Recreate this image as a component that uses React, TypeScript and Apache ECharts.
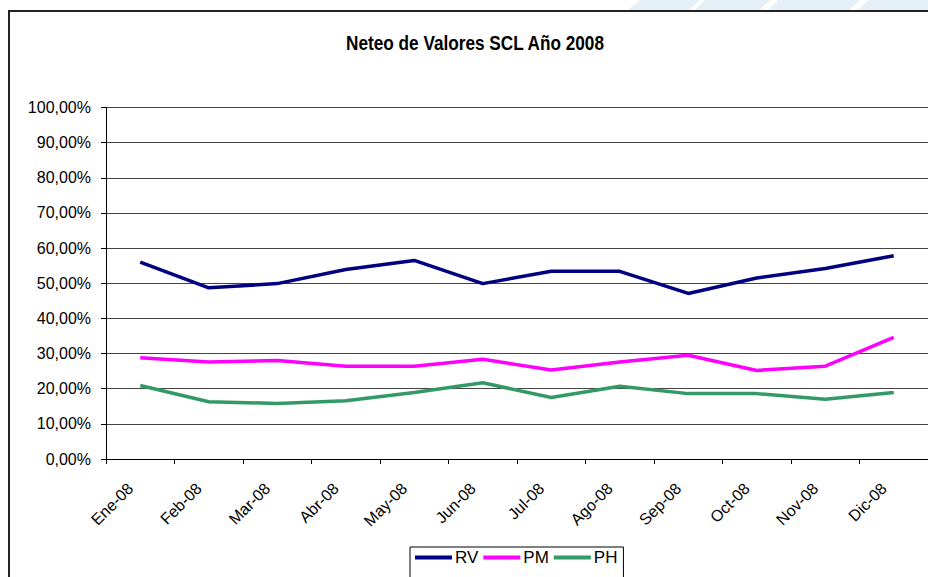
import React, { useEffect, useRef } from "react";
import * as echarts from "echarts";

const categories = ["Ene-08", "Feb-08", "Mar-08", "Abr-08", "May-08", "Jun-08", "Jul-08", "Ago-08", "Sep-08", "Oct-08", "Nov-08", "Dic-08"];
const rv = [56.0, 48.7, 49.9, 53.9, 56.5, 49.9, 53.4, 53.4, 47.1, 51.5, 54.2, 57.8];
const pm = [28.8, 27.6, 28.0, 26.4, 26.4, 28.4, 25.3, 27.6, 29.5, 25.2, 26.4, 34.6];
const ph = [20.9, 16.3, 15.8, 16.6, 18.9, 21.7, 17.5, 20.7, 18.6, 18.6, 17.0, 18.9];
const seriesNames = ["RV", "PM", "PH"];
const seriesColors = ["#000080", "#FF00FF", "#339966"];
const titleText = "Neteo de Valores SCL Año 2008";

export default function App() {
  const ref = useRef<HTMLDivElement>(null);
  useEffect(() => {
    if (!ref.current) return;
    const chart = echarts.init(ref.current, undefined, { renderer: "svg" });
    const font = "'Liberation Sans', Arial, sans-serif";
    const stripe = "#e6f1f7";
    chart.setOption({
      animation: false,
      backgroundColor: "#ffffff",
      graphic: [
        { type: "polygon", shape: { points: [[640, 0], [700, 0], [690, 10], [628, 10]] }, style: { fill: stripe } },
        { type: "polygon", shape: { points: [[705, 0], [770, 0], [760, 10], [695, 10]] }, style: { fill: stripe } },
        { type: "polygon", shape: { points: [[778, 0], [860, 0], [850, 10], [768, 10]] }, style: { fill: stripe } },
        { type: "polygon", shape: { points: [[868, 0], [928, 0], [928, 10], [858, 10]] }, style: { fill: stripe } },
        {
          type: "rect",
          shape: { x: 9, y: 11, width: 1000, height: 1000 },
          style: { fill: "none", stroke: "#222", lineWidth: 2 },
          z: 10,
        },
        {
          type: "text",
          x: 475,
          y: 43,
          scaleX: 0.86,
          style: {
            text: titleText,
            fontFamily: font,
            fontWeight: "bold",
            fontSize: 20,
            fill: "#000",
            textAlign: "center",
            textVerticalAlign: "middle",
          },
        },
      ],
      legend: {
        data: seriesNames,
        left: 410,
        top: 547,
        icon: "rect",
        itemWidth: 37,
        itemHeight: 4,
        itemGap: 5,
        padding: [2, 6, 30, 5],
        borderColor: "#000",
        borderWidth: 1,
        textStyle: { fontFamily: font, fontSize: 17, color: "#000", padding: [0, 0, 0, -2] },
      },
      grid: { left: 106, top: 107.5, width: 823, height: 351.5, containLabel: false },
      xAxis: {
        type: "category",
        data: categories,
        boundaryGap: true,
        axisLine: { show: true, lineStyle: { color: "#000", width: 1 } },
        axisTick: { show: true, length: 5, lineStyle: { color: "#000" }, alignWithLabel: false },
        axisLabel: {
          rotate: 45,
          margin: 17,
          interval: 0,
          padding: [0, 14, 0, 0],
          fontFamily: font,
          fontSize: 16,
          color: "#000",
        },
        splitLine: { show: false },
      },
      yAxis: {
        type: "value",
        min: 0,
        max: 100,
        interval: 10,
        axisLine: { show: true, lineStyle: { color: "#000", width: 1 } },
        axisTick: { show: true, inside: false, length: 5, lineStyle: { color: "#000" } },
        axisLabel: {
          margin: 15,
          fontFamily: font,
          fontSize: 16,
          color: "#000",
          formatter: (v: number) => v.toFixed(2).replace(".", ",") + "%",
        },
        splitLine: { show: true, lineStyle: { color: "#444", width: 1 } },
      },
      series: [rv, pm, ph].map((d, i) => ({
        name: seriesNames[i],
        type: "line",
        data: d,
        symbol: "none",
        lineStyle: { color: seriesColors[i], width: 3.5 },
        itemStyle: { color: seriesColors[i] },
      })),
    });
    return () => chart.dispose();
  }, []);
  return <div ref={ref} style={{ position: "fixed", left: 0, top: 0, width: 928, height: 577 }} />;
}
